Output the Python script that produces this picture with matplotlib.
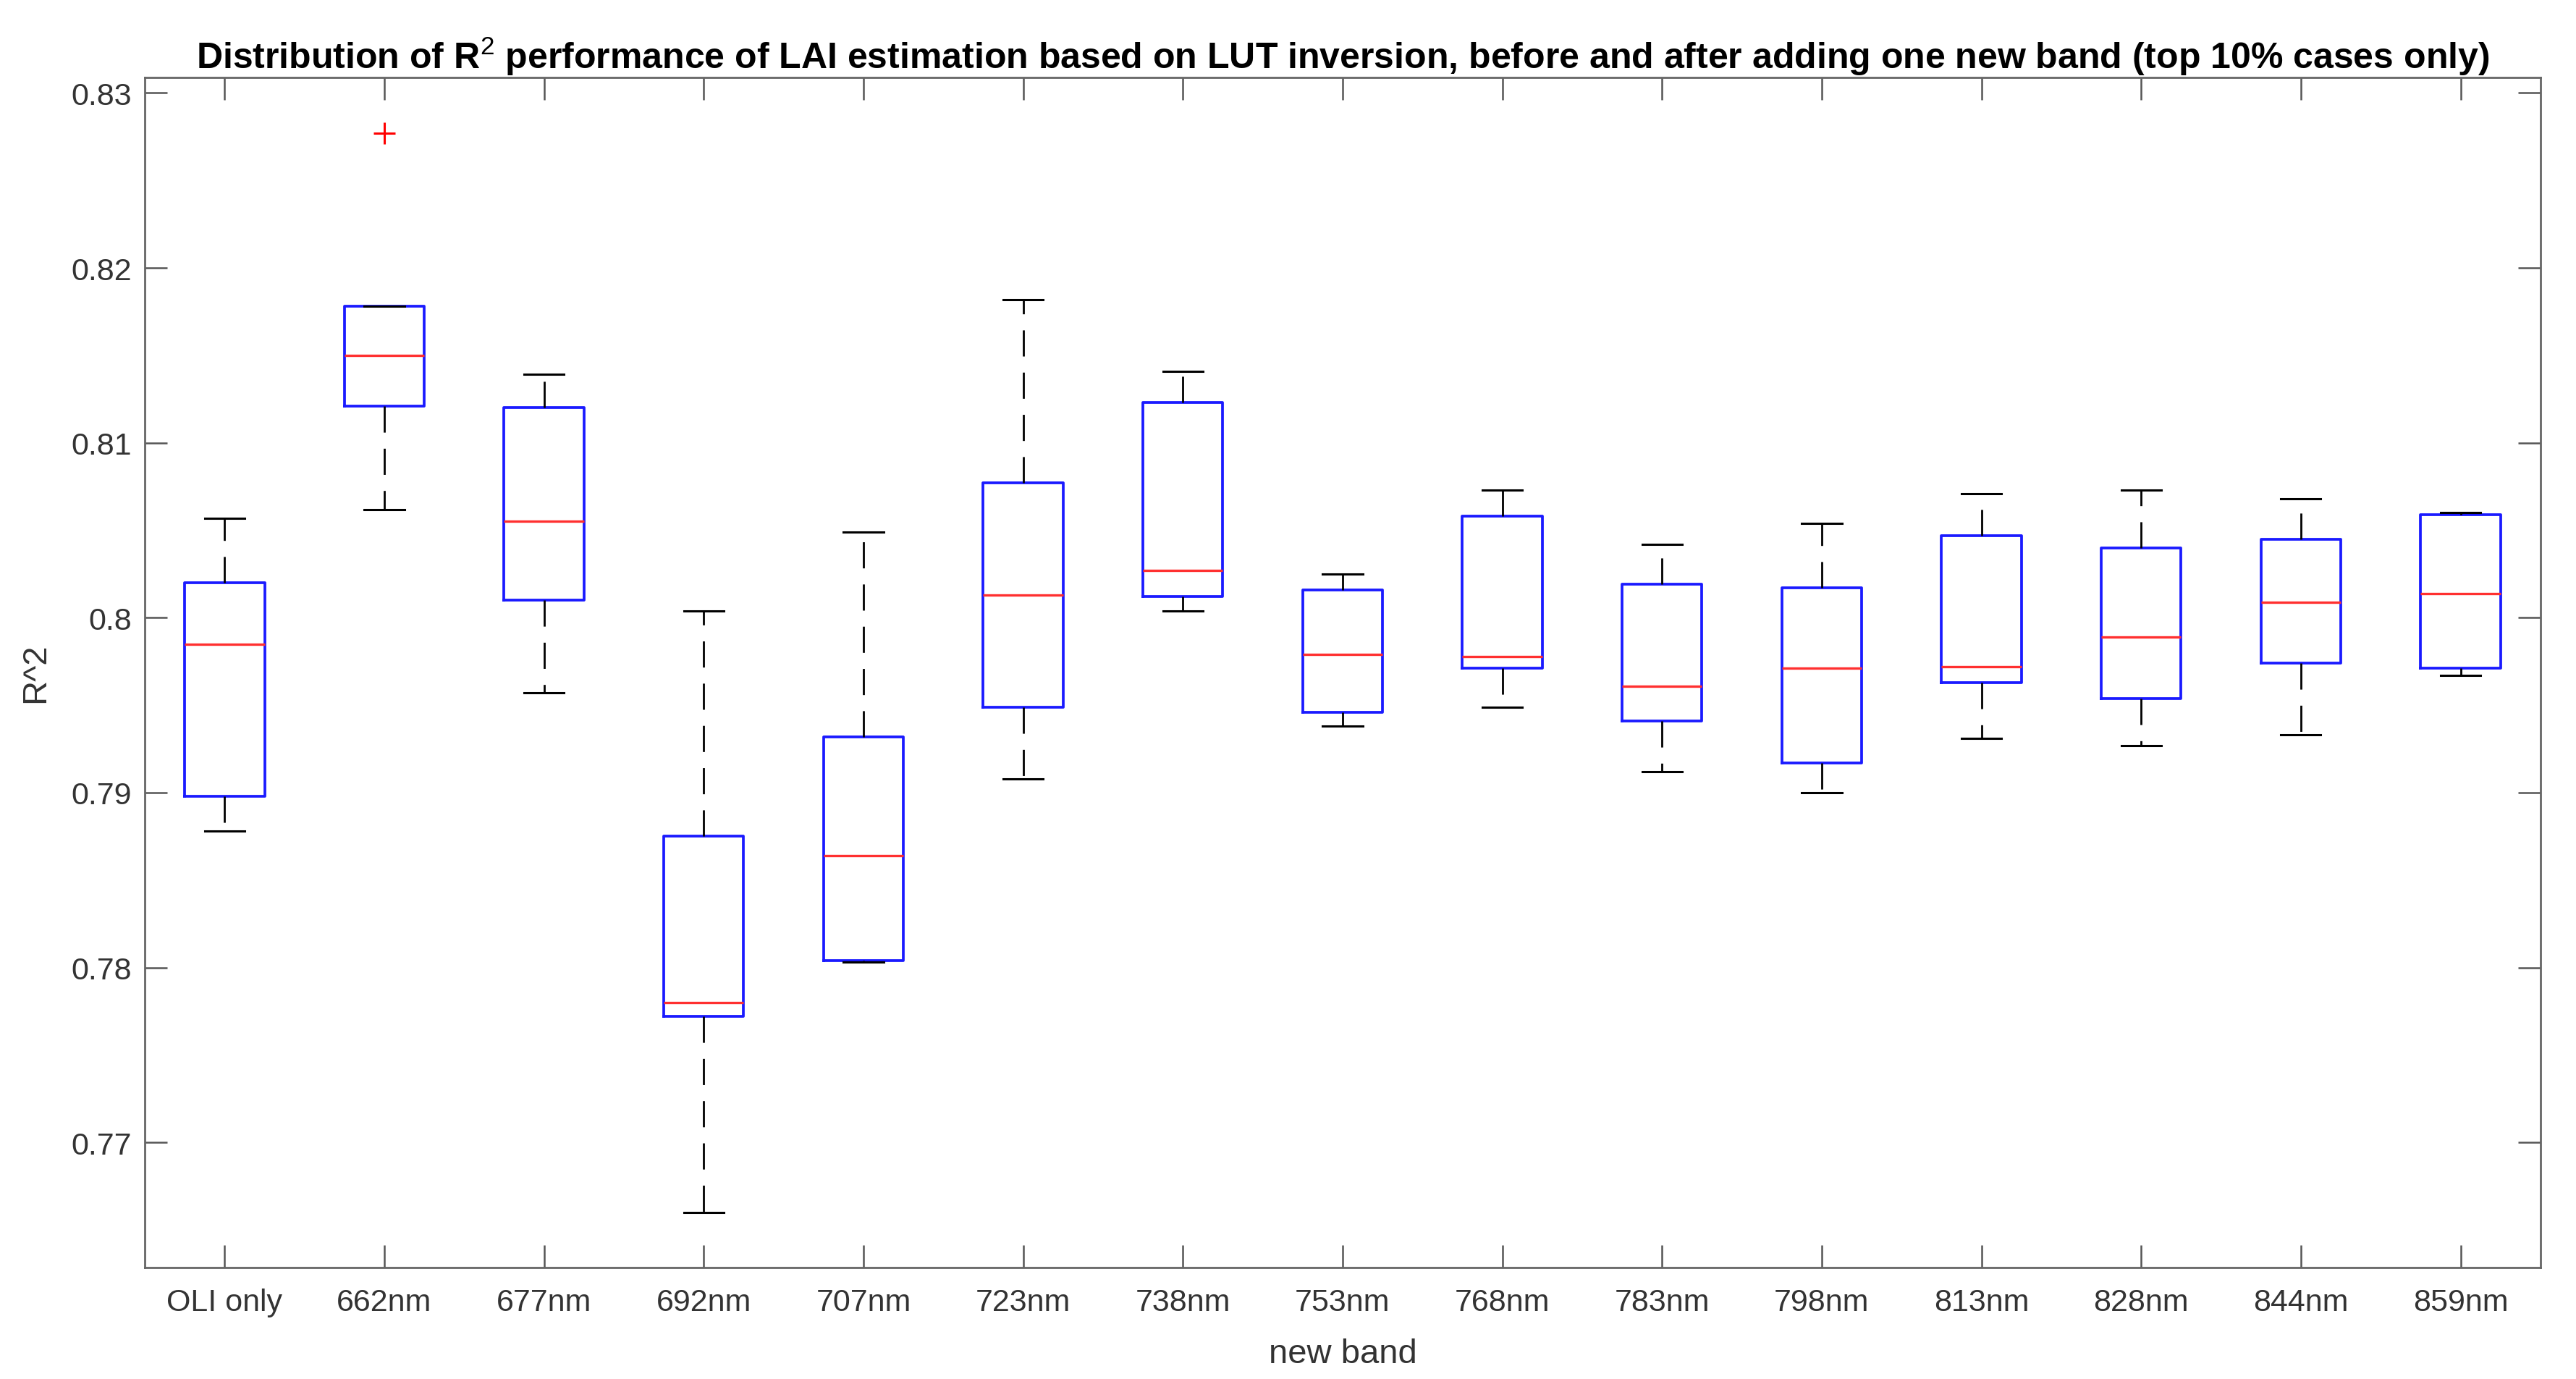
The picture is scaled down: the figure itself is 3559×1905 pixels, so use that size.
import matplotlib
matplotlib.use("Agg")
import matplotlib.pyplot as plt

# box statistics (R^2 of LAI estimation)
bands = ["OLI only", "662nm", "677nm", "692nm", "707nm", "723nm", "738nm", "753nm",
         "768nm", "783nm", "798nm", "813nm", "828nm", "844nm", "859nm"]
whislo = [0.7878, 0.8062, 0.7957, 0.7660, 0.7803, 0.7908, 0.8004, 0.7938,
          0.7949, 0.7912, 0.7900, 0.7931, 0.7927, 0.7933, 0.7967]
q1 = [0.7898, 0.8121, 0.8010, 0.7772, 0.7804, 0.7949, 0.8012, 0.7946,
      0.7971, 0.7941, 0.7917, 0.7963, 0.7954, 0.7974, 0.7971]
med = [0.7985, 0.8150, 0.8055, 0.7780, 0.7864, 0.8013, 0.8027, 0.7979,
       0.7978, 0.7961, 0.7971, 0.7972, 0.7989, 0.8009, 0.8014]
q3 = [0.8020, 0.8178, 0.8120, 0.7875, 0.7932, 0.8077, 0.8123, 0.8016,
      0.8058, 0.8019, 0.8017, 0.8047, 0.8040, 0.8045, 0.8059]
whishi = [0.8057, 0.8178, 0.8139, 0.8004, 0.8049, 0.8182, 0.8141, 0.8025,
          0.8073, 0.8042, 0.8054, 0.8071, 0.8073, 0.8068, 0.8060]
outliers = [[], [0.8277], [], [], [], [], [], [], [], [], [], [], [], [], []]

yticks = [0.77, 0.78, 0.79, 0.80, 0.81, 0.82, 0.83]
ytick_labels = ["0.77", "0.78", "0.79", "0.8", "0.81", "0.82", "0.83"]

plt.rcParams['font.family'] = ['Liberation Sans', 'DejaVu Sans']
plt.rcParams['mathtext.fontset'] = 'custom'
plt.rcParams['mathtext.rm'] = 'Liberation Sans'
plt.rcParams['mathtext.bf'] = 'Liberation Sans:bold'

stats = []
for i in range(len(bands)):
    stats.append({"label": bands[i], "whislo": whislo[i], "q1": q1[i], "med": med[i],
                  "q3": q3[i], "whishi": whishi[i], "fliers": outliers[i]})

fig = plt.figure(figsize=(35.59, 19.06), dpi=100)
ax = fig.add_subplot(111)
fig.subplots_adjust(left=0.0562, right=0.9862, bottom=0.0808, top=0.9431)

ax.bxp(stats, positions=range(1, len(bands) + 1), widths=0.5,
       boxprops=dict(color="#1a1aff", linewidth=2.7),
       medianprops=dict(color="#ff3030", linewidth=2.4),
       whiskerprops=dict(color="black", linewidth=2.0, linestyle=(0, (13, 8))),
       capprops=dict(color="black", linewidth=2.2),
       flierprops=dict(marker="+", markeredgecolor="red", markersize=22,
                       markeredgewidth=2.2, linestyle="none"))

ax.set_xlim(0.5, len(bands) + 0.5)
ax.set_ylim(0.76285, 0.83087)
ax.set_yticks(yticks)
ax.set_yticklabels(ytick_labels)

ax.tick_params(axis="both", direction="in", length=22, width=1.8, colors="#555555",
               labelcolor="#333333", labelsize=31, top=True, right=True)
ax.tick_params(axis="x", pad=20)
ax.tick_params(axis="y", pad=13)
for s in ax.spines.values():
    s.set_color("#666666")
    s.set_linewidth(2.0)

ax.set_title(r"Distribution of R$^{2}$ performance of LAI estimation based on LUT inversion, "
             r"before and after adding one new band (top 10% cases only)",
             fontsize=36, fontweight="bold", pad=10)
ax.set_xlabel("new band", fontsize=34, color="#333333")
ax.set_ylabel("R^2", fontsize=34, color="#333333")
ax.xaxis.set_label_coords(0.5, -0.0590)
ax.yaxis.set_label_coords(-0.039, 0.5)

fig.savefig("out.png", dpi=100)
